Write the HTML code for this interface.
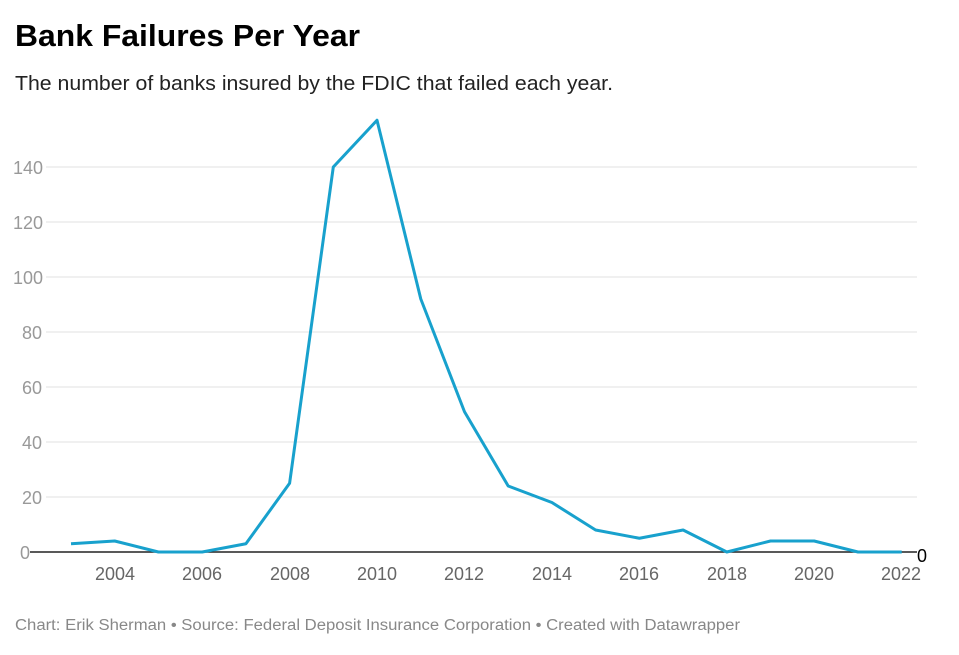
<!DOCTYPE html>
<html><head><meta charset="utf-8"><style>
body{margin:0;background:#fff;width:959px;height:650px;overflow:hidden;font-family:"Liberation Sans",sans-serif}
</style></head><body>
<svg width="959" height="650" xmlns="http://www.w3.org/2000/svg" font-family="Liberation Sans, sans-serif">
<text x="15" y="46" font-size="31" font-weight="bold" fill="#000" textLength="345" lengthAdjust="spacingAndGlyphs">Bank Failures Per Year</text>
<text x="15" y="90" font-size="20" fill="#222" textLength="598" lengthAdjust="spacingAndGlyphs">The number of banks insured by the FDIC that failed each year.</text>
<g stroke="#e2e2e2" stroke-width="1">
<line x1="46" x2="917" y1="167" y2="167"/><line x1="46" x2="917" y1="222" y2="222"/>
<line x1="46" x2="917" y1="277" y2="277"/><line x1="46" x2="917" y1="332" y2="332"/>
<line x1="46" x2="917" y1="387" y2="387"/><line x1="46" x2="917" y1="442" y2="442"/>
<line x1="46" x2="917" y1="497" y2="497"/>
</g>
<g font-size="18" fill="#999">
<text x="13" y="174">140</text><text x="13" y="229">120</text><text x="13" y="284">100</text>
<text x="22" y="339">80</text><text x="22" y="394">60</text><text x="22" y="449">40</text>
<text x="22" y="504">20</text><text x="20" y="559">0</text>
</g>
<line x1="30" x2="917" y1="552" y2="552" stroke="#222" stroke-width="1.5"/>
<text x="917" y="562" font-size="18" fill="#000">0</text>
<polyline fill="none" stroke="#18a1cd" stroke-width="3" stroke-linejoin="round" points="71,543.75 114.7,541 158.4,552 202.2,552 245.9,543.75 289.6,483.25 333.3,167 377,120.25 420.8,299 464.5,411.75 508.2,486 551.9,502.5 595.6,530 639.4,538.25 683.1,530 726.8,552 770.5,541 814.2,541 858,552 901.7,552"/>
<g font-size="18" fill="#666" text-anchor="middle">
<text x="115" y="580">2004</text><text x="202" y="580">2006</text><text x="290" y="580">2008</text>
<text x="377" y="580">2010</text><text x="464" y="580">2012</text><text x="552" y="580">2014</text>
<text x="639" y="580">2016</text><text x="727" y="580">2018</text><text x="814" y="580">2020</text>
<text x="901" y="580">2022</text>
</g>
<text x="15" y="630" font-size="15.5" fill="#888" textLength="725" lengthAdjust="spacingAndGlyphs">Chart: Erik Sherman • Source: Federal Deposit Insurance Corporation • Created with Datawrapper</text>
</svg>
</body></html>
